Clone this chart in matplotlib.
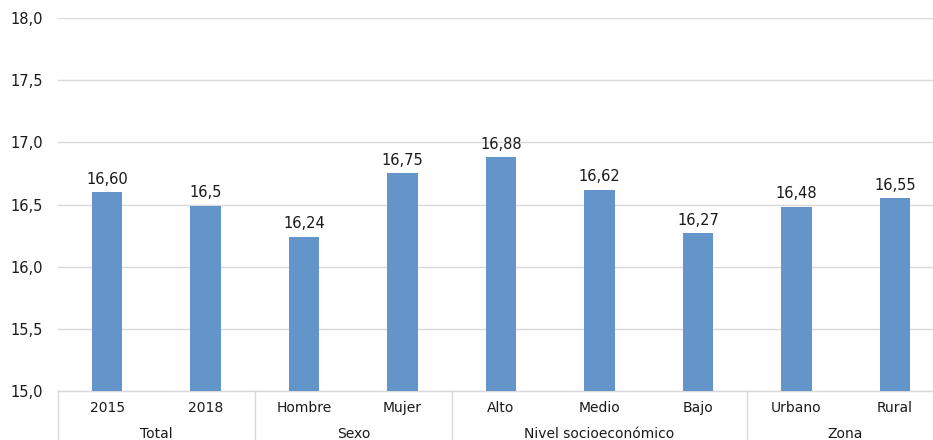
import matplotlib
matplotlib.use("Agg")
import matplotlib.pyplot as plt
import matplotlib.transforms as mtransforms
import numpy as np

plt.rcParams["font.family"] = ["DejaVu Sans"]

categories = ["2015", "2018", "Hombre", "Mujer", "Alto", "Medio", "Bajo", "Urbano", "Rural"]
values = [16.60, 16.49, 16.24, 16.75, 16.88, 16.62, 16.27, 16.48, 16.55]
value_labels = ["16,60", "16,5", "16,24", "16,75", "16,88", "16,62", "16,27", "16,48", "16,55"]
groups = ["Total", "Sexo", "Nivel socioeconómico", "Zona"]
group_sizes = [2, 2, 3, 2]
y_ticks = [15.0, 15.5, 16.0, 16.5, 17.0, 17.5, 18.0]
y_tick_labels = ["15,0", "15,5", "16,0", "16,5", "17,0", "17,5", "18,0"]

W, H = 933, 440
fig = plt.figure(figsize=(W / 100, H / 100), dpi=100)
left, right, top, bottom = 58, 944, 18, 391
ax = fig.add_axes([left / W, (H - bottom) / H, (right - left) / W, (bottom - top) / H])

bar_color = "#6495CA"
text_color = "#1a1a1a"
grid_color = "#d9d9d9"

x = np.arange(len(categories))
ax.bar(x, values, width=0.31, color=bar_color, zorder=3)
for xi, v, lab in zip(x, values, value_labels):
    ax.annotate(lab, (xi, v), xytext=(0, 4), textcoords="offset points",
                ha="center", va="bottom", fontsize=10.5, color=text_color)

ax.set_xlim(-0.5, len(categories) - 0.5)
ax.set_ylim(15, 18)
ax.set_yticks(y_ticks)
ax.set_yticklabels(y_tick_labels, fontsize=10.5, color=text_color)
ax.tick_params(axis="y", length=0, pad=11)
ax.set_xticks([])
ax.grid(axis="y", color=grid_color, linewidth=1, zorder=0)
for s in ["left", "right", "top"]:
    ax.spines[s].set_visible(False)
ax.spines["bottom"].set_color(grid_color)
ax.spines["bottom"].set_linewidth(1)

axh = bottom - top
trans = mtransforms.blended_transform_factory(ax.transData, ax.transAxes)
for xi, c in zip(x, categories):
    ax.text(xi, -17 / axh, c, transform=trans, ha="center", va="center",
            fontsize=10, color=text_color)

start = -0.5
bounds = [start]
for g, n in zip(groups, group_sizes):
    center = start + n / 2
    ax.text(center, -43 / axh, g, transform=trans, ha="center", va="center",
            fontsize=10, color=text_color)
    start += n
    bounds.append(start)
for b in bounds:
    ax.plot([b, b], [0, -60 / axh], transform=trans, color=grid_color,
            linewidth=1, clip_on=False)

fig.savefig("out.png", dpi=100)
